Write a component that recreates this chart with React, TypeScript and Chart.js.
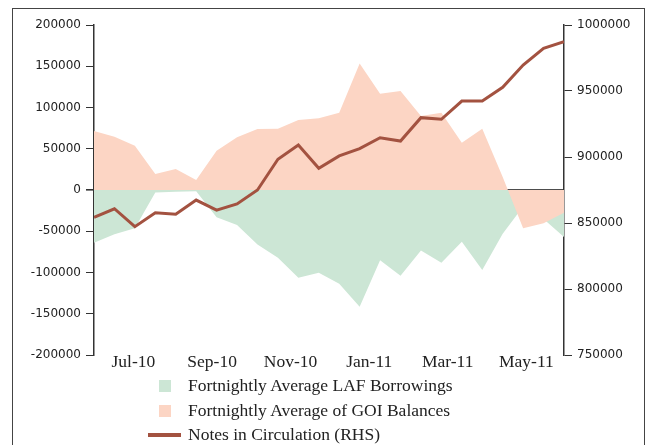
import React, { useEffect, useRef } from 'react';
import { Chart, registerables } from 'chart.js';

Chart.register(...registerables);

// Fortnightly observations (24 fortnights, Jun-2010 to May-2011), index-positioned
const tickPositions = [1.93, 5.78, 9.62, 13.47, 17.31, 21.16];
const tickLabels = ['Jul-10', 'Sep-10', 'Nov-10', 'Jan-11', 'Mar-11', 'May-11'];

const lafBorrowings = [
  -63800, -53700, -46400, -3000, -2000, -1500, -33100, -42400, -66200, -82000, -106300, -100200,
  -113700, -141400, -85300, -104000, -73300, -88100, -62600, -97000, -53000, -20000, -35000, -57000,
];
const goiBalances = [
  71500, 64600, 53700, 19400, 25500, 12100, 47600, 63800, 73900, 74200, 84800, 86900,
  93700, 153300, 116600, 120000, 89700, 93700, 57300, 74300, 15800, -46400, -40400, -27500,
];
const notesInCirculation = [
  854300, 860800, 847200, 857800, 856600, 867400, 859800, 864400, 875000, 898300, 909100, 891400,
  900800, 906300, 914600, 912100, 929800, 928600, 942400, 942400, 952800, 969700, 982300, 987300,
];

const seriesNames = [
  'Fortnightly Average LAF Borrowings',
  'Fortnightly Average of GOI Balances',
  'Notes in Circulation (RHS)',
];
const seriesColors = ['rgb(204,230,213)', 'rgb(252,213,196)', 'rgb(163,82,64)'];

const toPoints = (arr: number[]) => arr.map((y, i) => ({ x: i, y }));

export default function App() {
  const canvasRef = useRef<HTMLCanvasElement | null>(null);

  useEffect(() => {
    if (!canvasRef.current) return;
    const axisColor = '#333';
    const tickFont = { family: 'DejaVu Sans', size: 12 };
    const chart = new Chart(canvasRef.current, {
      type: 'line',
      data: {
        datasets: [
          {
            label: seriesNames[2],
            data: toPoints(notesInCirculation),
            yAxisID: 'y1',
            borderColor: seriesColors[2],
            borderWidth: 3,
            pointRadius: 0,
            tension: 0,
            fill: false,
            order: 0,
          },
          {
            label: seriesNames[1],
            data: toPoints(goiBalances),
            yAxisID: 'y',
            borderWidth: 0,
            borderColor: 'transparent',
            backgroundColor: seriesColors[1],
            pointRadius: 0,
            tension: 0,
            fill: 'origin',
            order: 1,
          },
          {
            label: seriesNames[0],
            data: toPoints(lafBorrowings),
            yAxisID: 'y',
            borderWidth: 0,
            borderColor: 'transparent',
            backgroundColor: seriesColors[0],
            pointRadius: 0,
            tension: 0,
            fill: 'origin',
            order: 2,
          },
        ],
      },
      options: {
        animation: false,
        responsive: false,
        maintainAspectRatio: false,
        layout: { padding: { top: 25, left: 0, right: 0, bottom: 0 } },
        plugins: {
          legend: { display: false },
          tooltip: { enabled: false },
          title: { display: false },
        },
        scales: {
          x: {
            type: 'linear',
            min: 0,
            max: notesInCirculation.length - 1,
            grid: { display: false, drawTicks: false },
            border: { display: false },
            afterFit: (s: any) => {
              s.height = 90;
            },
            afterBuildTicks: (s: any) => {
              s.ticks = tickPositions.map((v) => ({ value: v }));
            },
            ticks: {
              autoSkip: false,
              maxRotation: 0,
              padding: -3,
              color: '#222',
              font: { family: 'Liberation Serif', size: 17.5 },
              callback: (v: any) => {
                const i = tickPositions.indexOf(Number(v));
                return i >= 0 ? tickLabels[i] : '';
              },
            },
          },
          y: {
            type: 'linear',
            position: 'left',
            min: -200000,
            max: 200000,
            z: 1,
            afterFit: (s: any) => {
              s.width = 94;
            },
            grid: {
              drawOnChartArea: true,
              color: (ctx: any) => (ctx.tick && ctx.tick.value === 0 ? '#4d4d4d' : 'rgba(0,0,0,0)'),
              lineWidth: (ctx: any) => (ctx.tick && ctx.tick.value === 0 ? 1.6 : 1),
              tickColor: axisColor,
              tickLength: 8,
            },
            border: { display: true, color: axisColor, width: 1.5 },
            ticks: {
              stepSize: 50000,
              padding: 5,
              color: '#222',
              font: tickFont,
              callback: (v: any) => String(v),
            },
          },
          y1: {
            type: 'linear',
            position: 'right',
            min: 750000,
            max: 1000000,
            afterFit: (s: any) => {
              s.width = 84;
            },
            grid: {
              drawOnChartArea: false,
              tickColor: axisColor,
              tickLength: 8,
            },
            border: { display: true, color: axisColor, width: 1.5 },
            ticks: {
              stepSize: 50000,
              padding: 5,
              color: '#222',
              font: tickFont,
              callback: (v: any) => String(v),
            },
          },
        },
      },
    });
    return () => chart.destroy();
  }, []);

  const legendText: React.CSSProperties = {
    position: 'absolute',
    left: 188,
    fontFamily: 'Liberation Serif',
    fontSize: '17.5px',
    lineHeight: '20px',
    color: '#222',
    whiteSpace: 'nowrap',
  };

  return (
    <div
      style={{
        position: 'fixed',
        left: 0,
        top: 0,
        width: 648,
        height: 445,
        overflow: 'hidden',
        background: '#fff',
      }}
    >
      <div
        style={{
          position: 'absolute',
          left: 12,
          top: 8,
          width: 633,
          height: 460,
          boxSizing: 'border-box',
          border: '1px solid #444',
        }}
      />
      <canvas
        ref={canvasRef}
        width={648}
        height={445}
        style={{ position: 'absolute', left: 0, top: 0, width: 648, height: 445 }}
      />
      <div style={{ position: 'absolute', left: 159, top: 380, width: 12, height: 12, background: seriesColors[0] }} />
      <div style={{ ...legendText, top: 375 }}>{seriesNames[0]}</div>
      <div style={{ position: 'absolute', left: 159, top: 405, width: 12, height: 12, background: seriesColors[1] }} />
      <div style={{ ...legendText, top: 400 }}>{seriesNames[1]}</div>
      <div style={{ position: 'absolute', left: 148, top: 433, width: 33, height: 4, background: seriesColors[2] }} />
      <div style={{ ...legendText, top: 424 }}>{seriesNames[2]}</div>
    </div>
  );
}
